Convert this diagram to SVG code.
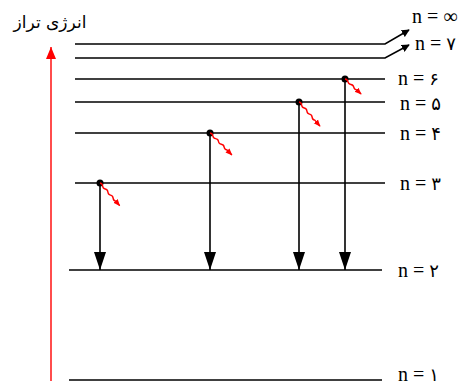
<svg xmlns="http://www.w3.org/2000/svg" width="473" height="385" viewBox="0 0 473 385">
<defs>
<marker id="ah" viewBox="0 0 18 12" refX="18" refY="6" markerWidth="18" markerHeight="12" markerUnits="userSpaceOnUse" orient="auto">
<path d="M0,0 L18,6 L0,12 Z" fill="#000"/>
</marker>
<marker id="ah2" viewBox="0 0 10 10" refX="9" refY="5" markerWidth="8" markerHeight="8" markerUnits="userSpaceOnUse" orient="auto">
<path d="M0,0 L10,5 L0,10 Z" fill="#000"/>
</marker>
<marker id="ahr" viewBox="0 0 10 10" refX="9" refY="5" markerWidth="7" markerHeight="7" markerUnits="userSpaceOnUse" orient="auto">
<path d="M0,1 L10,5 L0,9 Z" fill="#f00"/>
</marker>
<marker id="ahR" viewBox="0 0 10 12" refX="5" refY="0" markerWidth="10" markerHeight="12" markerUnits="userSpaceOnUse" orient="0">
<path d="M0,12 L5,0 L10,12 Z" fill="#f00"/>
</marker>
</defs>
<style>
.lvl{stroke:#000;stroke-width:1.6;fill:none}
.tr{stroke:#000;stroke-width:1.6;fill:none}
.wave{stroke:#f00;stroke-width:1.4;fill:none}
.lbl{font-family:"Liberation Serif","DejaVu Serif",serif;font-size:20px;fill:#000}
.fa{font-family:"DejaVu Sans",sans-serif;font-size:18px}
.title{font-family:"DejaVu Sans","Noto Sans",sans-serif;font-size:17px;fill:#000}
</style>
<g id="axis">
<line x1="51" y1="381" x2="51" y2="47" stroke="#f00" stroke-width="1.4" marker-end="url(#ahR)"/>
<text class="title" x="50" y="28" text-anchor="middle" direction="rtl">انرژی تراز</text>
</g>
<g id="levels">
<g id="n-inf"><path class="lvl" d="M75,44 H385 L409,30" marker-end="url(#ah2)"/><text class="lbl" x="412" y="23">n = ∞</text></g>
<g id="n7"><path class="lvl" d="M75,58 H385 L409,45" marker-end="url(#ah2)"/><text class="lbl" x="415" y="50">n = <tspan class="fa">۷</tspan></text></g>
<g id="n6"><path class="lvl" d="M75,79 H385"/><text class="lbl" x="398" y="85">n = <tspan class="fa">۶</tspan></text></g>
<g id="n5"><path class="lvl" d="M75,102 H385"/><text class="lbl" x="400" y="110">n = <tspan class="fa">۵</tspan></text></g>
<g id="n4"><path class="lvl" d="M75,133 H385"/><text class="lbl" x="400" y="140">n = <tspan class="fa">۴</tspan></text></g>
<g id="n3"><path class="lvl" d="M75,183 H385"/><text class="lbl" x="400" y="190">n = <tspan class="fa">۳</tspan></text></g>
<g id="n2"><path class="lvl" d="M69,270 H382"/><text class="lbl" x="398" y="277">n = <tspan class="fa">۲</tspan></text></g>
<g id="n1"><path class="lvl" d="M69,380 H382"/><text class="lbl" x="398" y="381">n = <tspan class="fa">۱</tspan></text></g>
</g>
<g id="connectors">
<line class="tr" x1="100" y1="183" x2="100" y2="270" marker-end="url(#ah)"/>
<line class="tr" x1="210" y1="133" x2="210" y2="270" marker-end="url(#ah)"/>
<line class="tr" x1="299" y1="102" x2="299" y2="270" marker-end="url(#ah)"/>
<line class="tr" x1="345" y1="79" x2="345" y2="270" marker-end="url(#ah)"/>
<circle cx="100" cy="183" r="3.5"/>
<circle cx="210" cy="133" r="3.5"/>
<circle cx="299" cy="102" r="3.5"/>
<circle cx="345" cy="79" r="3.5"/>
<path class="wave" transform="translate(100,183) rotate(49)" d="M0,0 q2,-1.5 4,0 t4,0 t4,0 t4,0 t4,0 t4,0 L30,0" marker-end="url(#ahr)"/>
<path class="wave" transform="translate(210,133) rotate(45)" d="M0,0 q2,-1.5 4,0 t4,0 t4,0 t4,0 t4,0 t4,0 L31,0" marker-end="url(#ahr)"/>
<path class="wave" transform="translate(299,102) rotate(49)" d="M0,0 q2,-1.5 4,0 t4,0 t4,0 t4,0 t4,0 t4,0 L32,0" marker-end="url(#ahr)"/>
<path class="wave" transform="translate(345,79) rotate(43)" d="M0,0 q2,-1.5 4,0 t4,0 t4,0 t4,0 L22,0" marker-end="url(#ahr)"/>
</g>
</svg>
